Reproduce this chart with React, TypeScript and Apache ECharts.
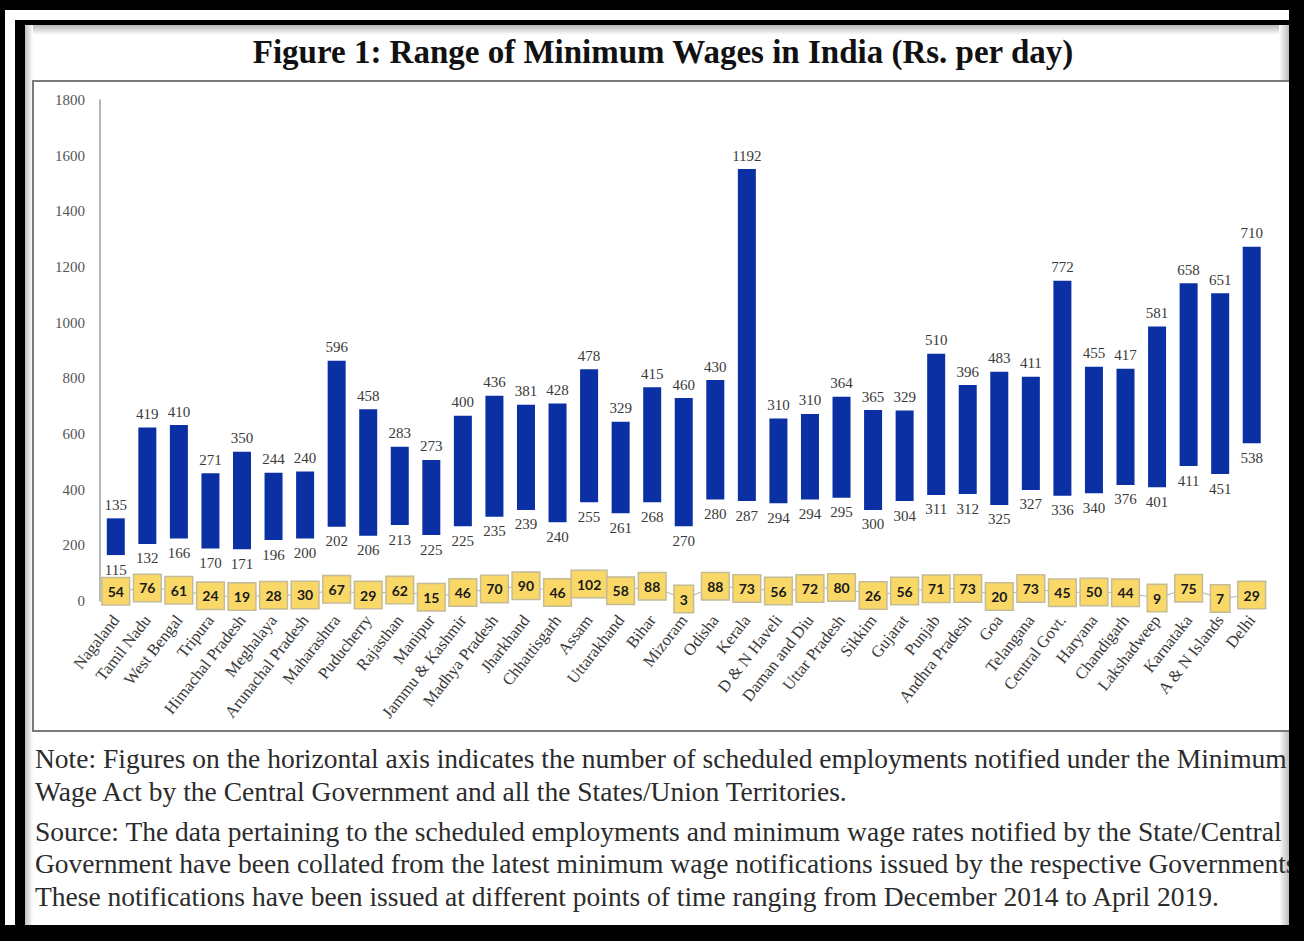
import React, { useEffect, useRef } from "react";
import * as echarts from "echarts";

const categories = [
  "Nagaland", "Tamil Nadu", "West Bengal", "Tripura", "Himachal Pradesh", "Meghalaya",
  "Arunachal Pradesh", "Maharashtra", "Puducherry", "Rajasthan", "Manipur", "Jammu & Kashmir",
  "Madhya Pradesh", "Jharkhand", "Chhattisgarh", "Assam", "Uttarakhand", "Bihar", "Mizoram",
  "Odisha", "Kerala", "D & N Haveli", "Daman and Diu", "Uttar Pradesh", "Sikkim", "Gujarat",
  "Punjab", "Andhra Pradesh", "Goa", "Telangana", "Central Govt.", "Haryana", "Chandigarh",
  "Lakshadweep", "Karnataka", "A & N Islands", "Delhi",
];

// Printed wage labels (Rs. per day)
const minWage = [115, 132, 166, 170, 171, 196, 200, 202, 206, 213, 225, 225, 235, 239, 240, 255, 261, 268, 270, 280, 287, 294, 294, 295, 300, 304, 311, 312, 325, 327, 336, 340, 376, 401, 411, 451, 538];
const maxWage = [135, 419, 410, 271, 350, 244, 240, 596, 458, 283, 273, 400, 436, 381, 428, 478, 329, 415, 460, 430, 1192, 310, 310, 364, 365, 329, 510, 396, 483, 411, 772, 455, 417, 581, 658, 651, 710];

// Bar ends as drawn against the printed axis
const barLow = [165, 205, 225, 189, 186, 219, 225, 267, 234, 273, 237, 269, 303, 327, 283, 355, 315, 355, 269, 365, 359, 351, 365, 371, 327, 359, 381, 384, 345, 399, 378, 387, 417, 409, 485, 456, 567];
const barHigh = [297, 623, 632, 459, 536, 461, 465, 863, 689, 554, 507, 666, 737, 705, 710, 833, 644, 768, 729, 794, 1552, 656, 672, 734, 686, 684, 888, 776, 824, 806, 1151, 842, 834, 986, 1142, 1106, 1273];

// Number of scheduled employments
const schemes = [54, 76, 61, 24, 19, 28, 30, 67, 29, 62, 15, 46, 70, 90, 46, 102, 58, 88, 3, 88, 73, 56, 72, 80, 26, 56, 71, 73, 20, 73, 45, 50, 44, 9, 75, 7, 29];

const yTicks = { min: 0, max: 1800, interval: 200 };

const titleText = "Figure 1: Range of Minimum Wages in India (Rs. per day)";
const noteLines = [
  "Note: Figures on the horizontal axis indicates the number of scheduled employments notified under the Minimum",
  "Wage Act by the Central Government and all the States/Union Territories.",
];
const sourceLines = [
  "Source: The data pertaining to the scheduled employments and minimum wage rates notified by the State/Central",
  "Government have been collated from the latest minimum wage notifications issued by the respective Governments.",
  "These notifications have been issued at different points of time ranging from December 2014 to April 2019.",
];

const SERIF = "'Liberation Serif', 'Times New Roman', serif";

export default function App() {
  const ref = useRef<HTMLDivElement>(null);

  useEffect(() => {
    if (!ref.current) return;
    const chart = echarts.init(ref.current, null, { renderer: "svg" });

    const textLines: any[] = [];
    const noteYs = [758, 791];
    const srcYs = [831, 863, 896];
    noteLines.forEach((t, i) =>
      textLines.push({
        type: "text",
        z: 1,
        style: { text: t, x: 35, y: noteYs[i], align: "left", verticalAlign: "middle", font: `27.5px ${SERIF}`, fill: "#2b2b2b" },
      })
    );
    sourceLines.forEach((t, i) =>
      textLines.push({
        type: "text",
        z: 1,
        style: { text: t, x: 35, y: srcYs[i], align: "left", verticalAlign: "middle", font: `27.5px ${SERIF}`, fill: "#2b2b2b" },
      })
    );

    const option: any = {
      animation: false,
      backgroundColor: "#000",
      graphic: [
        { type: "rect", z: -5, shape: { x: 5, y: 10, width: 1284, height: 915 }, style: { fill: "#fff" } },
        {
          type: "rect", z: -4, shape: { x: 25, y: 25, width: 1264, height: 10 },
          style: { fill: new echarts.graphic.LinearGradient(0, 0, 0, 1, [{ offset: 0, color: "#b8b8b8" }, { offset: 1, color: "#ffffff" }]) },
        },
        {
          type: "rect", z: -4, shape: { x: 25, y: 25, width: 8, height: 900 },
          style: { fill: new echarts.graphic.LinearGradient(0, 0, 1, 0, [{ offset: 0, color: "#c0c0c0" }, { offset: 1, color: "#ffffff" }]) },
        },
        {
          type: "rect", z: -4, shape: { x: 1279, y: 25, width: 10, height: 900 },
          style: { fill: new echarts.graphic.LinearGradient(0, 0, 1, 0, [{ offset: 0, color: "#ffffff" }, { offset: 1, color: "#bdbdbd" }]) },
        },
        { type: "rect", z: -3, shape: { x: 15, y: 20, width: 1274, height: 5 }, style: { fill: "#000" } },
        { type: "rect", z: -3, shape: { x: 15, y: 20, width: 10, height: 905 }, style: { fill: "#000" } },
        { type: "rect", z: -2, shape: { x: 33, y: 81, width: 1262, height: 650 }, style: { fill: "#fff", stroke: "#7a7a7a", lineWidth: 2 } },
        {
          type: "text", z: 1,
          style: { text: titleText, x: 663, y: 52, align: "center", verticalAlign: "middle", font: `bold 33px ${SERIF}`, fill: "#111" },
        },
        ...textLines,
        { type: "rect", z: 5, shape: { x: 1289, y: 0, width: 15, height: 941 }, style: { fill: "#000" } },
        { type: "rect", z: 5, shape: { x: 0, y: 925, width: 1304, height: 16 }, style: { fill: "#000" } },
      ],
      grid: { left: 100, right: 36.5, top: 100, bottom: 340, containLabel: false },
      xAxis: {
        type: "category",
        data: categories,
        axisLine: { show: false },
        axisTick: { show: false },
        axisLabel: { rotate: 52, interval: 0, margin: 16, fontFamily: SERIF, fontSize: 16.5, color: "#3a3a3a" },
      },
      yAxis: [
        {
          type: "value",
          min: yTicks.min,
          max: yTicks.max,
          interval: yTicks.interval,
          axisLine: { show: true, lineStyle: { color: "#a0a0a0", width: 1.5 } },
          axisTick: { show: false },
          splitLine: { show: false },
          axisLabel: { margin: 15, fontFamily: SERIF, fontSize: 15, color: "#555", formatter: (v: number) => String(v) },
        },
        { type: "value", min: -10, max: 3300, show: false, splitLine: { show: false } },
      ],
      series: [
        {
          type: "bar",
          stack: "wage",
          barWidth: 18,
          data: barLow,
          silent: true,
          itemStyle: { color: "rgba(0,0,0,0)" },
          label: {
            show: true,
            position: "insideTop",
            distance: 7,
            formatter: (p: any) => String(minWage[p.dataIndex]),
            fontFamily: SERIF,
            fontSize: 15,
            color: "#3a3a3a",
          },
        },
        {
          type: "bar",
          stack: "wage",
          barWidth: 18,
          data: barHigh.map((h, i) => h - barLow[i]),
          itemStyle: { color: "#0A30A3" },
          label: {
            show: true,
            position: "top",
            distance: 6,
            formatter: (p: any) => String(maxWage[p.dataIndex]),
            fontFamily: SERIF,
            fontSize: 15,
            color: "#3a3a3a",
          },
        },
        {
          type: "line",
          yAxisIndex: 1,
          data: schemes,
          symbol: "circle",
          symbolSize: 1,
          itemStyle: { color: "rgba(0,0,0,0)" },
          lineStyle: { color: "#b0b0b0", width: 1 },
          z: 4,
          label: {
            show: true,
            position: "inside",
            fontFamily: "Lato, 'Liberation Sans', sans-serif",
            fontWeight: "bold",
            fontSize: 14,
            lineHeight: 16,
            color: "#1a1a1a",
            backgroundColor: "#F9D867",
            borderColor: "#c4bb98",
            borderWidth: 1.5,
            padding: [5, 5],
          },
        },
      ],
    };

    chart.setOption(option);
    return () => chart.dispose();
  }, []);

  return (
    <div
      ref={ref}
      style={{ position: "fixed", left: 0, top: 0, width: 1304, height: 941 }}
    />
  );
}
